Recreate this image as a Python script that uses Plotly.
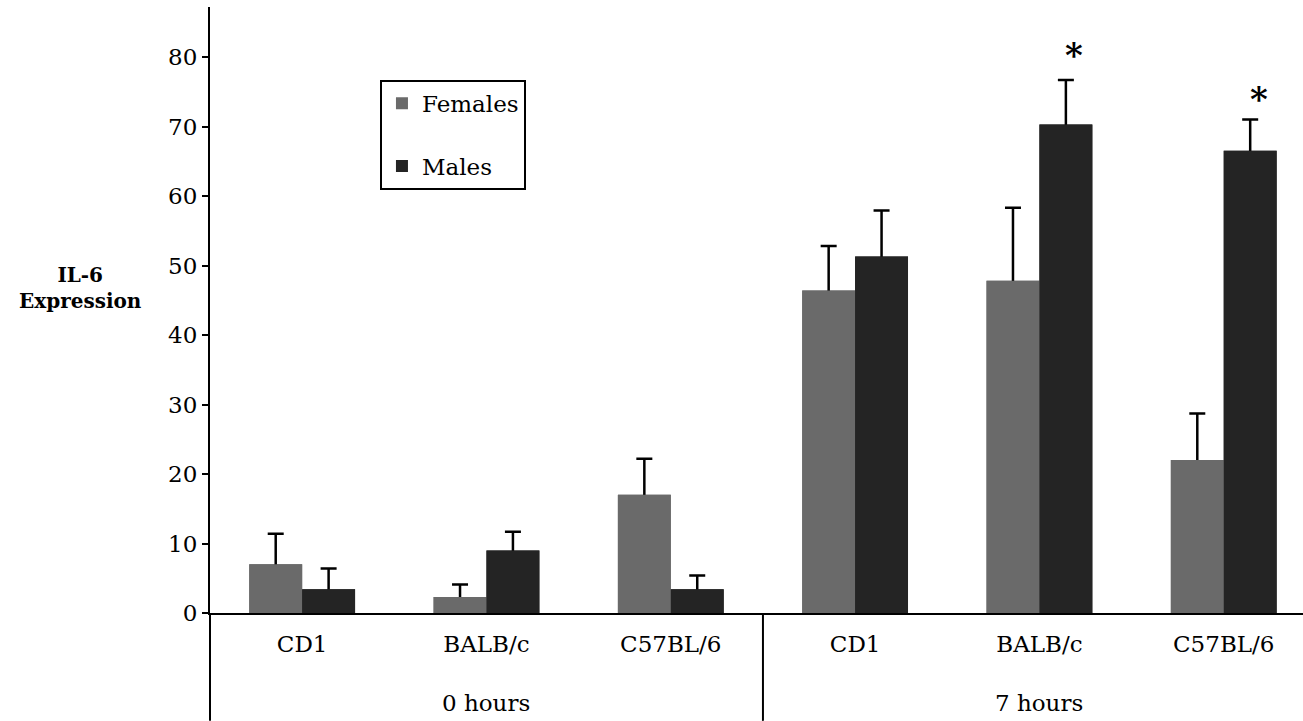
import plotly.graph_objects as go

categories = ["CD1", "BALB/c", "C57BL/6", "CD1", "BALB/c", "C57BL/6"]
groups = ["0 hours", "7 hours"]
females = [7.0, 2.3, 17.0, 46.4, 47.8, 22.0]
females_err = [4.4, 1.8, 5.2, 6.4, 10.5, 6.7]
males = [3.4, 9.0, 3.4, 51.3, 70.3, 66.5]
males_err = [3.0, 2.7, 2.0, 6.6, 6.4, 4.5]
star_pos = [4, 5]
star_y = [80.3, 73.9]
yticks = [0, 10, 20, 30, 40, 50, 60, 70, 80]

FONT = "DejaVu Serif"
FEM_COLOR = "#6a6a6a"
MAL_COLOR = "#242424"
xs = list(range(len(categories)))

fig = go.Figure()
# bars carrying the (upper) error bars
for name, vals, errs, col, og in [("Females", females, females_err, FEM_COLOR, "f"),
                                   ("Males", males, males_err, MAL_COLOR, "m")]:
    fig.add_trace(go.Bar(
        x=xs, y=vals, name=name, legendgroup=og, offsetgroup=og,
        marker=dict(color=col, line=dict(width=0)),
        error_y=dict(type="data", symmetric=False, array=errs,
                     arrayminus=vals, color="black", thickness=2.5, width=8),
    ))
# same bars drawn again on top so only the upper half of each error bar shows
for vals, col, og in [(females, FEM_COLOR, "f"), (males, MAL_COLOR, "m")]:
    fig.add_trace(go.Bar(
        x=xs, y=vals, offsetgroup=og, showlegend=False, hoverinfo="skip",
        marker=dict(color=col, line=dict(width=0)),
    ))

fig.update_layout(
    width=1303, height=721,
    margin=dict(l=210, r=0, t=7, b=108),
    paper_bgcolor="white", plot_bgcolor="white",
    barmode="group", bargap=0.426, bargroupgap=0,
    font=dict(family=FONT, size=23, color="black"),
    legend=dict(
        x=0.1555, y=0.88, xanchor="left", yanchor="top",
        bordercolor="black", borderwidth=2,
        font=dict(family=FONT, size=23),
        traceorder="grouped", tracegroupgap=30,
        itemwidth=30,
    ),
    showlegend=True,
)
fig.update_xaxes(
    range=[-0.5, 5.43], tickmode="array", tickvals=xs, ticktext=categories,
    showline=True, linecolor="black", linewidth=2, ticks="",
    showgrid=False, zeroline=False, ticklabelstandoff=9,
    tickfont=dict(family=FONT, size=23),
)
fig.update_yaxes(
    range=[0, 87.2], tickmode="array", tickvals=yticks,
    showline=True, linecolor="black", linewidth=2, ticks="outside",
    ticklen=6, tickwidth=2, tickcolor="black",
    showgrid=False, zeroline=False,
    tickfont=dict(family=FONT, size=23),
)

# extended axis line and group separator
fig.add_shape(type="line", xref="paper", yref="paper", x0=0, x1=0, y0=0, y1=-0.178,
              line=dict(color="black", width=2))
fig.add_shape(type="line", xref="x", yref="paper", x0=2.5, x1=2.5, y0=0, y1=-0.178,
              line=dict(color="black", width=2))

# group labels
for gi, g in enumerate(groups):
    fig.add_annotation(x=1 + 3 * gi, y=-0.148, xref="x", yref="paper", text=g,
                       xanchor="center", yanchor="middle",
                       showarrow=False, font=dict(family=FONT, size=23))

# significance stars
for p, sy in zip(star_pos, star_y):
    fig.add_annotation(x=p + 0.19, y=sy, xref="x", yref="y", text="<b>*</b>",
                       xanchor="center", yanchor="middle",
                       showarrow=False, font=dict(family=FONT, size=34))

# y title
fig.add_annotation(x=(80 - 210) / 1093, y=(613 - 288) / 606, xref="paper", yref="paper",
                   text="<b>IL-6<br>Expression</b>", xanchor="center", yanchor="middle",
                   showarrow=False, font=dict(family=FONT, size=20), align="center")

fig.write_html("out.html")
